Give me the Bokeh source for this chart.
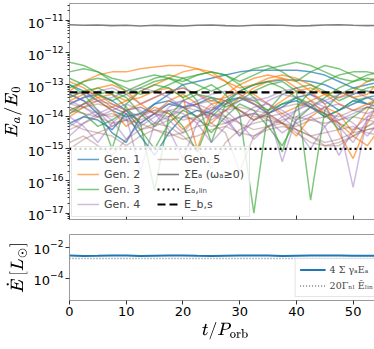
from bokeh.plotting import figure
from bokeh.models import (Legend, LegendItem, FixedTicker, Range1d, ColumnDataSource,
                          CustomJSTickFormatter)
from bokeh.layouts import column
from bokeh.embed import file_html
from bokeh.resources import INLINE

# ---------------- data (log10 of E_a/E_0) ----------------
t = [0, 2.5, 5, 7.5, 10, 12.5, 15, 17.5, 20, 22.5, 25, 27.5, 30, 32.5, 35, 37.5,
     40, 42.5, 45, 47.5, 50, 52.5, 55]

gen1 = [
    [-13.0, -13.2, -13.5, -13.8, -14.0, -13.9, -13.6, -13.3, -13.0, -12.9, -12.8, -12.7, -12.6, -12.55, -12.55, -12.55, -12.55, -12.6, -12.7, -12.9, -13.1, -13.0, -12.9],
    [-14.2, -14.0, -14.1, -14.4, -13.9, -14.6, -15.2, -14.5, -14.0, -13.8, -13.9, -13.5, -13.2, -13.0, -12.9, -12.85, -12.85, -12.9, -13.0, -13.2, -13.4, -13.6, -13.5],
    [-13.6, -13.4, -13.3, -13.5, -13.8, -14.2, -13.9, -13.6, -13.7, -14.0, -13.8, -13.5, -13.4, -13.6, -13.9, -13.7, -13.4, -13.3, -13.5, -13.8, -13.6, -13.4, -13.3],
    [-13.3, -13.5, -13.9, -14.5, -14.8, -14.0, -13.6, -13.5, -13.7, -13.6, -13.4, -13.5, -13.8, -14.1, -13.9, -13.6, -13.5, -13.7, -14.0, -13.8, -13.5, -13.6, -13.7],
]
gen2 = [
    [-13.2, -12.9, -12.7, -12.6, -12.6, -12.5, -12.45, -12.4, -12.4, -12.5, -12.7, -12.9, -13.1, -13.0, -12.8, -12.7, -12.8, -13.0, -13.3, -13.4, -13.2, -12.9, -12.7],
    [-13.5, -13.3, -13.1, -13.0, -13.2, -13.6, -13.9, -13.5, -13.3, -13.6, -14.2, -13.8, -13.4, -13.1, -12.9, -12.8, -12.9, -13.2, -13.6, -14.5, -15.3, -14.2, -13.4],
    [-13.8, -13.6, -13.4, -13.3, -13.5, -13.4, -13.2, -13.1, -13.4, -15.0, -13.8, -13.3, -13.0, -12.8, -12.7, -12.8, -13.1, -13.5, -13.9, -14.2, -14.6, -14.9, -14.3],
    [-12.9, -13.1, -13.4, -13.7, -13.5, -13.2, -13.0, -12.8, -12.6, -12.5, -12.6, -12.9, -13.3, -13.6, -13.8, -13.5, -13.2, -13.1, -13.3, -13.6, -13.8, -13.6, -13.4],
    [-14.0, -13.7, -13.5, -13.8, -14.3, -14.0, -13.7, -13.9, -14.4, -14.0, -13.6, -13.5, -13.8, -14.1, -13.9, -14.2, -14.6, -14.0, -13.7, -13.9, -14.5, -13.8, -13.2],
    [-13.4, -13.2, -13.3, -13.6, -13.8, -13.6, -13.4, -13.2, -13.1, -13.3, -13.5, -13.4, -13.2, -13.3, -13.6, -13.9, -13.7, -13.5, -13.3, -13.2, -13.4, -13.3, -12.8],
]
gen3 = [
    [-12.3, -12.4, -12.6, -12.8, -12.9, -12.8, -12.7, -12.8, -12.9, -12.7, -12.6, -12.7, -12.9, -12.7, -12.5, -12.4, -12.3, -12.4, -12.6, -12.8, -12.9, -12.7, -12.6],
    [-12.6, -12.5, -12.6, -12.9, -13.2, -13.0, -12.8, -12.7, -12.8, -13.0, -13.2, -13.0, -12.7, -12.5, -12.4, -12.6, -12.9, -12.6, -12.4, -12.5, -12.7, -12.9, -12.8],
    [-13.0, -13.3, -13.8, -15.0, -13.6, -13.2, -13.0, -13.1, -13.4, -13.2, -13.0, -13.3, -13.9, -17.0, -13.8, -13.3, -13.1, -13.0, -13.2, -13.5, -13.3, -13.1, -13.0],
    [-13.4, -13.2, -13.1, -13.3, -13.7, -14.2, -16.3, -14.0, -13.5, -13.3, -13.4, -13.7, -13.5, -13.2, -13.0, -12.9, -13.2, -16.6, -13.8, -13.3, -13.1, -13.2, -13.3],
    [-12.8, -13.0, -13.3, -13.5, -13.3, -13.1, -12.9, -12.8, -13.0, -13.5, -14.8, -13.6, -13.2, -13.0, -12.9, -13.1, -13.4, -13.7, -13.4, -13.1, -12.9, -12.8, -12.9],
    [-13.7, -13.9, -14.3, -14.1, -13.8, -14.4, -15.0, -14.2, -13.8, -14.0, -14.5, -14.0, -13.6, -13.8, -14.3, -14.9, -14.1, -13.7, -13.9, -14.4, -14.0, -13.7, -13.8],
    [-13.1, -12.9, -12.8, -12.9, -13.1, -13.3, -13.2, -13.0, -12.8, -12.7, -12.6, -12.7, -13.0, -13.4, -13.9, -15.1, -13.7, -13.2, -12.9, -12.7, -12.6, -12.6, -12.7],
    [-13.9, -13.6, -13.3, -13.2, -13.4, -13.9, -14.3, -13.8, -14.3, -15.1, -14.0, -13.6, -13.4, -13.5, -13.8, -13.6, -13.4, -13.6, -14.0, -13.8, -13.5, -13.4, -13.6],
]
gen4 = [
    [-13.3, -13.5, -13.8, -14.3, -14.0, -15.7, -14.2, -13.7, -13.5, -13.7, -14.1, -13.8, -13.5, -13.4, -13.6, -14.0, -13.8, -13.5, -13.7, -14.2, -16.2, -14.0, -13.6],
    [-13.6, -13.4, -13.2, -13.1, -13.3, -13.6, -13.4, -13.2, -13.1, -13.3, -13.6, -14.0, -14.6, -13.9, -13.5, -13.3, -13.4, -13.7, -13.5, -13.3, -13.2, -13.4, -13.5],
    [-14.0, -14.3, -14.8, -14.2, -13.8, -13.7, -13.9, -14.4, -15.3, -14.2, -13.9, -14.1, -14.6, -14.1, -13.8, -15.4, -14.0, -13.7, -13.9, -14.3, -14.8, -14.1, -13.9],
    [-13.2, -13.3, -13.5, -13.4, -13.2, -13.1, -13.2, -13.4, -13.7, -13.5, -13.3, -13.2, -13.3, -13.5, -13.4, -13.2, -13.1, -13.3, -13.6, -13.4, -13.3, -13.2, -13.3],
    [-14.3, -14.0, -13.8, -14.1, -14.7, -14.2, -13.9, -14.1, -14.5, -14.0, -13.7, -13.8, -14.2, -14.7, -14.3, -14.0, -14.4, -15.0, -14.3, -13.9, -14.2, -14.6, -14.1],
    [-13.5, -13.7, -14.0, -13.8, -13.6, -13.8, -14.2, -14.0, -13.7, -13.6, -13.8, -13.6, -13.4, -13.6, -13.9, -14.2, -13.8, -13.6, -13.8, -14.1, -13.9, -13.7, -13.6],
    [-14.6, -14.2, -13.9, -13.7, -13.9, -14.3, -14.0, -13.8, -13.9, -14.2, -14.8, -14.3, -14.0, -13.9, -14.1, -14.5, -14.2, -14.0, -14.3, -15.2, -14.4, -14.0, -13.9],
    [-13.8, -13.6, -13.5, -13.6, -13.8, -14.0, -13.8, -13.6, -13.5, -13.7, -13.9, -14.2, -14.0, -13.7, -13.6, -13.8, -14.1, -13.9, -13.7, -13.6, -13.8, -13.9, -13.7],
]
gen5 = [
    [-14.8, -14.6, -14.9, -15.2, -14.7, -14.4, -14.2, -14.3, -14.6, -15.0, -15.6, -14.8, -14.4, -14.2, -14.1, -14.2, -14.4, -14.6, -14.8, -14.7, -14.5, -14.4, -14.3],
    [-13.8, -13.9, -14.0, -14.2, -14.1, -13.9, -13.8, -13.9, -14.1, -14.0, -13.9, -14.0, -14.2, -14.4, -14.3, -14.1, -14.0, -14.1, -14.2, -14.1, -14.0, -14.1, -14.2],
    [-14.2, -14.4, -14.5, -14.3, -14.1, -14.2, -14.4, -14.6, -14.5, -14.3, -14.2, -14.5, -15.7, -14.6, -14.3, -14.2, -14.5, -14.8, -14.9, -14.8, -14.6, -14.4, -14.3],
    [-13.6, -13.7, -13.9, -14.0, -13.8, -13.7, -13.9, -14.0, -13.8, -13.6, -13.5, -13.6, -13.8, -14.0, -14.0, -13.9, -14.2, -14.6, -14.9, -14.9, -14.6, -14.3, -14.0],
    [-14.4, -14.2, -14.0, -13.9, -14.1, -14.4, -14.3, -14.1, -14.0, -14.1, -14.3, -14.2, -14.0, -13.9, -14.0, -14.2, -14.3, -14.1, -14.0, -14.2, -14.4, -14.3, -14.1],
    [-13.9, -13.7, -13.6, -13.7, -13.9, -14.1, -13.9, -13.8, -13.7, -13.8, -14.0, -13.8, -13.7, -13.8, -13.9, -13.7, -13.6, -13.7, -13.9, -14.0, -13.8, -13.7, -13.8],
    [-15.0, -14.7, -14.5, -14.6, -14.9, -14.6, -14.4, -14.5, -14.7, -14.6, -14.4, -14.3, -14.5, -14.6, -14.4, -14.3, -14.4, -14.6, -14.5, -14.4, -14.3, -14.5, -14.6],
]
sum_E = [-11.13, -11.15, -11.14, -11.16, -11.15, -11.17, -11.15, -11.16, -11.17, -11.15, -11.14, -11.16,
         -11.17, -11.15, -11.14, -11.15, -11.17, -11.16, -11.14, -11.13, -11.15, -11.16, -11.15]
E_lin = -15.0
E_bs = -13.24

# bottom panel (log10 of Edot in L_sun)
Edot = [-2.55, -2.57, -2.56, -2.54, -2.55, -2.57, -2.56, -2.55, -2.54, -2.56, -2.57, -2.56,
        -2.55, -2.54, -2.55, -2.57, -2.56, -2.55, -2.54, -2.55, -2.56, -2.56, -2.55]
Edot_nl = -2.74

gen_labels = ["Gen. 1", "Gen. 2", "Gen. 3", "Gen. 4", "Gen. 5"]
gen_colors = ["#1f77b4", "#ff7f0e", "#2ca02c", "#9467bd", "#8c564b"]
gen_alpha = [0.7, 0.65, 0.6, 0.45, 0.35]
gens = [gen1, gen2, gen3, gen4, gen5]

x_ticks = [0, 10, 20, 30, 40, 50]

TICK_FONT = "DejaVu Sans"


def style(p):
    p.outline_line_color = "#9a9a9a"
    p.outline_line_width = 1
    p.grid.visible = False
    for ax in (p.xaxis, p.yaxis):
        ax.axis_line_color = None
        ax.major_tick_line_color = "#333333"
        ax.minor_tick_line_color = "#333333"
        ax.major_label_text_font = TICK_FONT
        ax.major_label_text_font_size = "13px"
        ax.major_label_text_color = "black"
        ax.major_tick_out = 4
        ax.major_tick_in = 0
        ax.minor_tick_out = 2
        ax.minor_tick_in = 0
        ax.major_label_standoff = 2
        ax.axis_label_standoff = 3
        ax.axis_label_text_font_style = "normal"
        ax.axis_label_text_font_size = "14px"
        ax.axis_label_text_color = "black"
    p.xaxis.ticker = FixedTicker(ticks=x_ticks)
    p.xaxis.minor_tick_line_color = None


# ---------------- top panel ----------------
p1 = figure(frame_width=312, frame_height=216, y_axis_type="log",
            x_range=Range1d(0, 55), y_range=Range1d(10 ** -17.2, 10 ** -10.47),
            min_border_left=53, min_border_right=1, min_border_top=3, min_border_bottom=8,
            output_backend="svg", toolbar_location=None)
style(p1)
p1.xaxis.formatter = CustomJSTickFormatter(code="return ''")
p1.xaxis.major_tick_in = 4
p1.xaxis.major_tick_out = 0
p1.xaxis.major_label_standoff = 0
p1.yaxis.ticker = FixedTicker(ticks=[10.0 ** k for k in range(-17, -10)],
                              minor_ticks=[m * 10.0 ** k for k in range(-18, -10) for m in range(2, 10)])
p1.yaxis.axis_label = r"$$E_a/E_0$$"

items = []
for g, lab, col, al in zip(gens, gen_labels, gen_colors, gen_alpha):
    src = ColumnDataSource(dict(xs=[t] * len(g), ys=[[10 ** v for v in line] for line in g]))
    r = p1.multi_line("xs", "ys", source=src, line_color=col, line_alpha=al, line_width=1.5)
    items.append(LegendItem(label=lab, renderers=[r]))

r_sum = p1.line(t, [10 ** v for v in sum_E], line_color="#7f7f7f", line_width=1.6)
r_lin = p1.line([t[0], t[-1]], [10 ** E_lin] * 2, line_color="black", line_width=2.2, line_dash="2 3")
r_bs = p1.line([t[0], t[-1]], [10 ** E_bs] * 2, line_color="black", line_width=2.2, line_dash="8 4")
items += [LegendItem(label="ΣEₐ (ωₐ≥0)", renderers=[r_sum]),
          LegendItem(label="Eₐ,ₗᵢₙ", renderers=[r_lin]),
          LegendItem(label="E_b,s", renderers=[r_bs])]

leg1 = Legend(items=items, location="bottom_left", nrows=4, orientation="vertical",
              label_text_font=TICK_FONT, label_text_font_size="11px",
              label_height=14, label_width=52, glyph_height=14, glyph_width=22, spacing=1,
              padding=5, margin=2, label_standoff=5,
              border_line_color="#cccccc", background_fill_alpha=0.8)
p1.add_layout(leg1)

# ---------------- bottom panel ----------------
p2 = figure(frame_width=312, frame_height=66, y_axis_type="log",
            x_range=p1.x_range, y_range=Range1d(10 ** -5.44, 10 ** -1.19),
            min_border_left=53, min_border_right=1, min_border_top=7, min_border_bottom=0,
            output_backend="svg", toolbar_location=None)
style(p2)
p2.yaxis.ticker = FixedTicker(ticks=[1e-4, 1e-2])
p2.yaxis.axis_label = r"$$\dot{E}\,[L_\odot]$$"
p2.xaxis.axis_label = r"$$t/P_{\rm orb}$$"

r_ed = p2.line(t, [10 ** v for v in Edot], line_color="#1f77b4", line_width=2)
r_nl = p2.line([t[0], t[-1]], [10 ** Edot_nl] * 2, line_color="#7f7f7f", line_width=1.5, line_dash="1 2")
leg2 = Legend(items=[LegendItem(label="4 Σ γₐEₐ", renderers=[r_ed]),
                     LegendItem(label="20Γₙₗ Ēₗᵢₙ", renderers=[r_nl])],
              location="bottom_right", label_text_font="DejaVu Serif", label_text_font_size="9.5px",
              label_height=13, glyph_height=13, glyph_width=26, spacing=3, padding=4, margin=3,
              label_standoff=4, border_line_color="#cccccc", background_fill_alpha=0.8)
p2.add_layout(leg2)

layout = column(p1, p2, spacing=0)
open("out.html", "w").write(file_html(layout, INLINE))
